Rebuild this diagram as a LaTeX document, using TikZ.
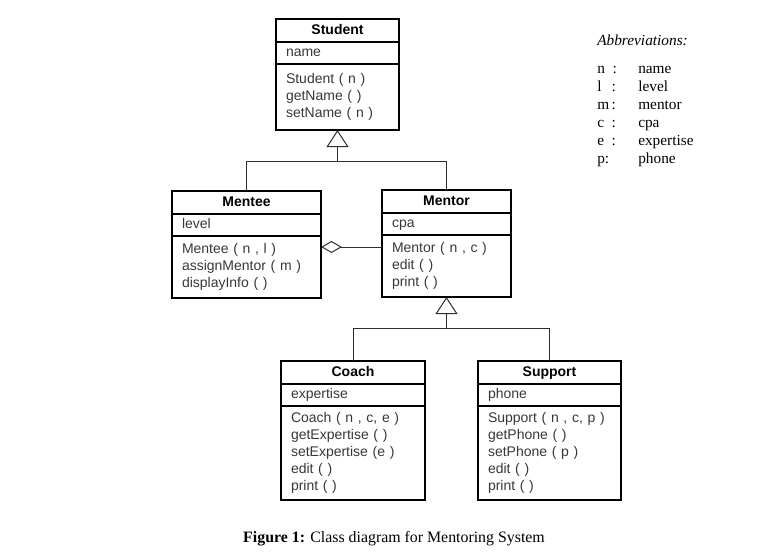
\documentclass[tikz,border=0pt]{standalone}
\usepackage{fontspec}
\setmainfont{Liberation Serif}
\setsansfont{Liberation Sans}
\usetikzlibrary{arrows.meta, positioning}
\definecolor{umlline}{RGB}{45,45,45}
\definecolor{umltext}{RGB}{55,55,55}
\tikzset{
  %% ---- class boxes ----
  classbox/.style  = {rectangle, draw=black, line width=1.4pt,
                      text width=#1, inner xsep=7.5pt, inner ysep=2pt,
                      outer sep=0pt},
  classname/.style = {classbox=#1, align=center, minimum height=17.25pt,
                      text height=8pt, text depth=2.5pt,
                      font=\sffamily\bfseries\fontsize{10.5}{12.75}\selectfont},
  classattr/.style = {classbox=#1, align=left, minimum height=16.5pt,
                      text height=8pt, text depth=2.5pt, text=umltext,
                      font=\sffamily\fontsize{10.5}{12.75}\selectfont},
  classops/.style  = {classbox=#1, align=left, text=umltext,
                      font=\sffamily\fontsize{10.5}{12.75}\selectfont},
  %% ---- connectors ----
  inherit/.style = {-{Triangle[open, length=12.75pt, width=16.5pt]},
                    line width=0.75pt, draw=umlline},
  assoc/.style   = {line width=0.75pt, draw=umlline},
  aggr/.style    = {-{Diamond[open, length=15.75pt, width=9pt]},
                    line width=0.75pt, draw=umlline},
}

\begin{document}
\begin{tikzpicture}[x=0.75pt, y=-0.75pt]
  \useasboundingbox (0,0) rectangle (771,557);

  %% Student
  \node[classname=77.25pt, anchor=north west] (student) at (276,19) {Student};
  \node[classattr=77.25pt, below=0pt of student] (studentattr) {name};
  \node[classops=77.25pt, minimum height=49.5pt, below=0pt of studentattr] (studentops)
    {Student ( n )\\getName ( )\\setName ( n )};

  %% Mentee
  \node[classname=96.75pt, anchor=north west] (mentee) at (172,191) {Mentee};
  \node[classattr=96.75pt, below=0pt of mentee] (menteeattr) {level};
  \node[classops=96.75pt, minimum height=46.5pt, below=0pt of menteeattr] (menteeops)
    {Mentee ( n , l )\\assignMentor ( m )\\displayInfo ( )};

  %% Mentor
  \node[classname=81.75pt, anchor=north west] (mentor) at (382,190) {Mentor};
  \node[classattr=81.75pt, below=0pt of mentor] (mentorattr) {cpa};
  \node[classops=81.75pt, minimum height=46.5pt, below=0pt of mentorattr] (mentorops)
    {Mentor ( n , c )\\edit ( )\\print ( )};

  %% Coach
  \node[classname=93pt, anchor=north west] (coach) at (281,361) {Coach};
  \node[classattr=93pt, below=0pt of coach] (coachattr) {expertise};
  \node[classops=93pt, minimum height=70.5pt, below=0pt of coachattr] (coachops)
    {Coach ( n , c, e )\\getExpertise ( )\\setExpertise (e )\\edit ( )\\print ( )};

  %% Support
  \node[classname=92.25pt, anchor=north west] (support) at (478,361) {Support};
  \node[classattr=92.25pt, below=0pt of support] (supportattr) {phone};
  \node[classops=92.25pt, minimum height=70.5pt, below=0pt of supportattr] (supportops)
    {Support ( n , c, p )\\getPhone ( )\\setPhone ( p )\\edit ( )\\print ( )};

  %% Generalisations
  \coordinate (studentjoin) at ([yshift=-23.25pt]studentops.south);
  \coordinate (mentorjoin)  at ([yshift=-23.25pt]mentorops.south);
  \draw[inherit] (mentee.north) |- (studentjoin) -- (studentops.south);
  \draw[assoc]   (mentor.north) |- (studentjoin);
  \draw[inherit] (coach.north) |- (mentorjoin) -- (mentorops.south);
  \draw[assoc]   (support.north) |- (mentorjoin);

  %% Aggregation
  \coordinate (aggrend) at ([yshift=-8.25pt]menteeops.north east);
  \draw[aggr] (mentorops.west |- aggrend) -- (aggrend);

  %% Abbreviations
  \node[anchor=base west, inner sep=0pt, font=\fontsize{11.5}{13.5}\selectfont] (abbr) at (597,45)
    {\begin{tabular}[t]{@{}p{30.75pt}@{}l@{}}
       \multicolumn{2}{@{}l@{}}{\textit{Abbreviations:}}\\[7.5pt]
       n\enspace: & name\\
       l\enspace\,: & level\\
       m\,: & mentor\\
       c\enspace: & cpa\\
       e\enspace: & expertise\\
       p: & phone
     \end{tabular}};

  %% Caption
  \node[anchor=base, inner sep=0pt, font=\fontsize{11.9}{14}\selectfont] (caption) at (394,542)
    {\textbf{Figure 1:} Class diagram for Mentoring System};

\end{tikzpicture}
\end{document}
